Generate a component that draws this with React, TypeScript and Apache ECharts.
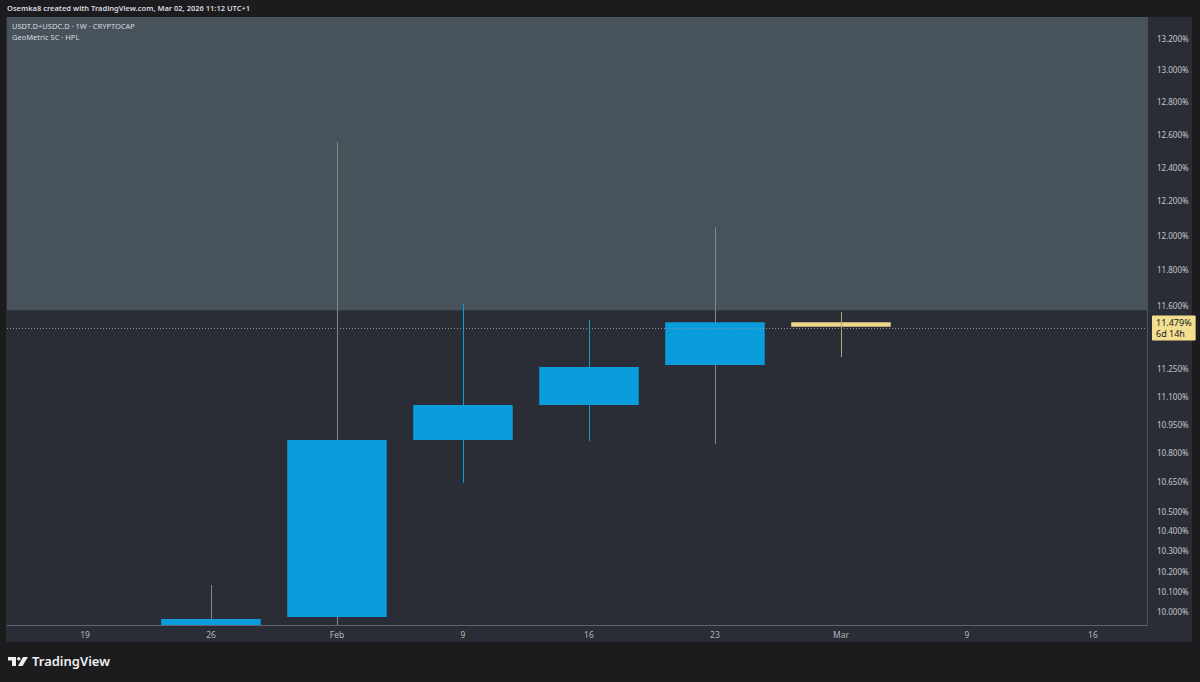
import React, { useEffect, useRef } from "react";
import * as echarts from "echarts";

// Week positions: 0 = Jan 19, 1 = Jan 26, 2 = Feb 2, ...
const timeLabels = ["19", "26", "Feb", "9", "16", "23", "Mar", "9", "16"];
const candleIdx = [1, 2, 3, 4, 5, 6];
const openVals = [9.88, 9.975, 10.867, 11.053, 11.269, 11.505];
const closeVals = [9.966, 10.867, 11.053, 11.258, 11.505, 11.479];
const lowVals = [9.84, 9.925, 10.644, 10.862, 10.846, 11.312];
const highVals = [10.131, 12.552, 11.606, 11.516, 12.046, 11.561];
const priceTicks = [10.0, 10.1, 10.2, 10.3, 10.4, 10.5, 10.65, 10.8, 10.95, 11.1, 11.25, 11.6, 11.8, 12.0, 12.2, 12.4, 12.6, 12.8, 13.0, 13.2];
const lastPrice = 11.479;
const zoneLow = 11.572;
const yMin = 9.937;
const yMax = 13.335;

const BLUE = "#0a9ddc";
const GRAY_WICK = "#7f8a90";
const bodyColors = [BLUE, BLUE, BLUE, BLUE, BLUE, "#ecd68a"];
const wickColors = [GRAY_WICK, GRAY_WICK, BLUE, BLUE, GRAY_WICK, "#a9a77c"];

export default function App() {
  const ref = useRef<HTMLDivElement>(null);
  useEffect(() => {
    const chart = echarts.init(ref.current!, null, { renderer: "svg" });
    const L = Math.log;
    const data = candleIdx.map((x, i) => [x, L(openVals[i]), L(closeVals[i]), L(lowVals[i]), L(highVals[i])]);
    const font = "Noto Sans";
    chart.setOption({
      animation: false,
      backgroundColor: "#1c1c1e",
      textStyle: { fontFamily: font },
      grid: { left: 7, right: 53, top: 17, bottom: 57 },
      xAxis: {
        type: "value",
        min: -0.619,
        max: 8.429,
        splitLine: { show: false },
        axisTick: { show: false },
        axisLine: { show: true, onZero: false, lineStyle: { color: "#5f636d", width: 1 } },
        axisLabel: {
          customValues: timeLabels.map((_, i) => i),
          formatter: (v: number) => timeLabels[Math.round(v)] ?? "",
          color: "#b2b5be",
          fontSize: 8.5,
          margin: 5,
          fontFamily: font,
        },
      },
      yAxis: {
        type: "value",
        position: "right",
        min: L(yMin),
        max: L(yMax),
        splitLine: { show: false },
        axisTick: { show: false },
        axisLine: { show: true, onZero: false, lineStyle: { color: "#4c505a", width: 1 } },
        axisLabel: {
          customValues: priceTicks.map((t) => L(t)),
          formatter: (v: number) => Math.exp(v).toFixed(3) + "%",
          color: "#c4c7cf",
          fontSize: 8,
          margin: 10,
          fontFamily: font,
        },
      },
      graphic: [
        { type: "rect", z: -10, silent: true, shape: { x: 6, y: 17, width: 1186, height: 625 }, style: { fill: "#2a2d35" } },
        { type: "text", z: 10, x: 7, y: 4, style: { text: "Osemka8 created with TradingView.com, Mar 02, 2026 11:12 UTC+1", fill: "#d9dbe0", fontSize: 7.5, fontWeight: 600, fontFamily: font } },
        { type: "text", z: 10, x: 12, y: 22, style: { text: "USDT.D+USDC.D · 1W · CRYPTOCAP", fill: "#d9dbe0", fontSize: 7.5, fontFamily: font } },
        { type: "text", z: 10, x: 12, y: 33, style: { text: "GeoMetric SC · HPL", fill: "#d9dbe0", fontSize: 7.5, fontFamily: font } },
        { type: "polygon", z: 10, shape: { points: [[8, 657], [16, 657], [16, 666], [12, 666], [12, 660.5], [8, 660.5]] }, style: { fill: "#eeeeee" } },
        { type: "circle", z: 10, shape: { cx: 18.8, cy: 658.8, r: 1.8 }, style: { fill: "#eeeeee" } },
        { type: "polygon", z: 10, shape: { points: [[23, 657], [28, 657], [22.5, 666], [18, 666]] }, style: { fill: "#eeeeee" } },
        { type: "text", z: 10, x: 32, y: 654, style: { text: "TradingView", fill: "#eeeeee", fontSize: 13, fontWeight: 600, fontFamily: font } },
      ],
      series: [
        {
          type: "custom",
          z: 3,
          clip: true,
          encode: { x: 0, y: [1, 2, 3, 4] },
          data,
          markArea: {
            silent: true,
            z: 1,
            itemStyle: { color: "#47525a", opacity: 1 },
            data: [[{ yAxis: L(zoneLow) }, { yAxis: L(yMax) }]],
          },
          markLine: {
            silent: true,
            z: 5,
            symbol: "none",
            lineStyle: { color: "#8d9199", type: [1, 2], width: 1 },
            label: {
              show: true,
              position: "end",
              distance: 5,
              formatter: lastPrice.toFixed(3) + "%\n6d 14h",
              backgroundColor: "#f3df8f",
              color: "#131722",
              fontSize: 9,
              lineHeight: 11,
              padding: [2, 4, 1, 4],
              borderRadius: 1,
              fontFamily: font,
            },
            data: [{ yAxis: L(lastPrice) }],
          },
          renderItem: (params: any, api: any) => {
            const x = api.value(0);
            const o = api.value(1);
            const c = api.value(2);
            const lo = api.value(3);
            const hi = api.value(4);
            const pTop = api.coord([x, Math.max(o, c)]);
            const pBot = api.coord([x, Math.min(o, c)]);
            const pHi = api.coord([x, hi]);
            const pLo = api.coord([x, lo]);
            const w = api.size([1, 0])[0] * 0.79;
            const i = params.dataIndex;
            const cx = Math.round(pTop[0]) + 0.5;
            const wick = {
              type: "line",
              shape: { x1: cx, y1: pHi[1], x2: cx, y2: pLo[1] },
              style: { stroke: wickColors[i], lineWidth: 1 },
            };
            const body = {
              type: "rect",
              shape: { x: pTop[0] - w / 2, y: pTop[1], width: w, height: Math.max(pBot[1] - pTop[1], 1) },
              style: { fill: bodyColors[i] },
            };
            const children = i === candleIdx.length - 1 ? [body, wick] : [wick, body];
            return { type: "group", children };
          },
        },
      ],
    });
    return () => chart.dispose();
  }, []);
  return (
    <div
      ref={ref}
      style={{ position: "fixed", left: 0, top: 0, width: 1200, height: 682 }}
    />
  );
}
